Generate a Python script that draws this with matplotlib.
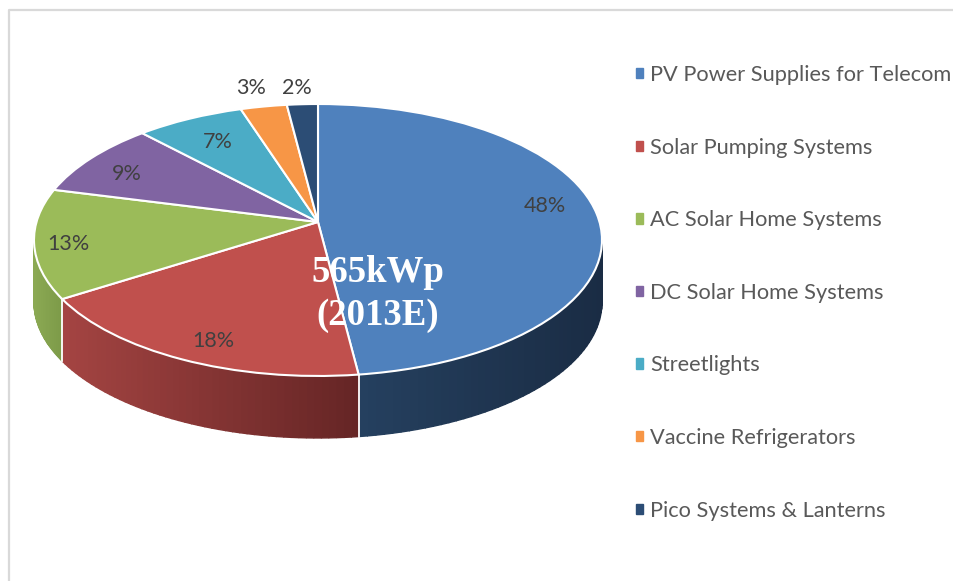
import numpy as np
import matplotlib
matplotlib.use('Agg')
import matplotlib.pyplot as plt
from matplotlib.colors import to_rgb
from matplotlib.patches import Patch
from matplotlib.transforms import Transform

plt.rcParams['font.family'] = ['Lato', 'DejaVu Sans']

# data
labels = ['PV Power Supplies for Telecom', 'Solar Pumping Systems',
          'AC Solar Home Systems', 'DC Solar Home Systems', 'Streetlights',
          'Vaccine Refrigerators', 'Pico Systems & Lanterns']
values = [48, 18, 13, 9, 7, 3, 2]
center_text = '565kWp\n(2013E)'

colors = ['#4F81BD', '#C0504D', '#9BBB59', '#8064A2', '#4BACC6', '#F79646', '#2C4D75']
# wall shading, left to right (only the three front slices show a wall)
wall_left = {0: '#25405F', 1: '#A44442', 2: '#8BA953'}
wall_right = {0: '#1A2C44', 1: '#652525', 2: '#7C9A48'}

# where the percent labels sit, pixels from the pie apex
pct_pos = [(227, 16.5), (-105, -119), (-250, -21.5), (-191, 48), (-100, 79.5), (-67, 134), (-21, 134)]

# perspective of the tilted disc
K = 0.1323
A = 281.5
B = 133.6
DEPTH = 62
EDGE_ANGLE = np.degrees(np.arcsin(K))


def project(u, v):
    return A * u / (1 + K * v), B * v / (1 + K * v)


class TiltTransform(Transform):
    input_dims = 2
    output_dims = 2
    is_affine = False

    def transform_non_affine(self, xy):
        xy = np.asarray(xy, dtype=float)
        x, y = project(xy[:, 0], xy[:, 1])
        return np.column_stack([x, y])


fig = plt.figure(figsize=(9.54, 5.81), dpi=100)
ax = fig.add_axes([0, 0, 1, 1])

# walls first, then the top
edges = 90 - np.cumsum([0] + values) * 3.6
for i in wall_left:
    a0 = min(edges[i], -EDGE_ANGLE)
    a1 = max(edges[i + 1], -180 + EDGE_ANGLE)
    angles = np.linspace(a0, a1, 50)
    x, y = project(np.cos(np.radians(angles)), np.sin(np.radians(angles)))
    x0 = min(x)
    x1 = max(x)
    cl = np.array(to_rgb(wall_left[i]))
    cr = np.array(to_rgb(wall_right[i]))
    for j in range(len(angles) - 1):
        f = ((x[j] + x[j + 1]) / 2 - x0) / (x1 - x0)
        c = cl + (cr - cl) * f
        ax.fill([x[j], x[j + 1], x[j + 1], x[j]],
                [y[j], y[j + 1], y[j + 1] - DEPTH, y[j] - DEPTH],
                color=c, lw=1.0, zorder=1)

# white seams on the wall between slices
for a in edges[1:3]:
    xs, ys = project(np.cos(np.radians(a)), np.sin(np.radians(a)))
    ax.plot([xs, xs], [ys, ys - DEPTH], color='white', lw=1.3, zorder=2)

wedges, _ = ax.pie(values, colors=colors, startangle=90, counterclock=False,
                   wedgeprops={'edgecolor': 'white', 'linewidth': 1.5})
tilt = TiltTransform()
for w in wedges:
    w.set_transform(tilt + ax.transData)
    w.set_zorder(3)

ax.set_aspect('auto')
ax.set_xlim(-318, 636)
ax.set_ylim(-359, 222)
ax.axis('off')

for v, (px, py) in zip(values, pct_pos):
    ax.text(px, py, f'{v}%', fontsize=15.5, color='#404040', ha='center', va='center', zorder=5)

ax.text(60, -72, center_text, family='Liberation Serif', fontweight='bold', fontsize=26.5,
        color='white', ha='center', va='center', linespacing=1.3, zorder=6)

# chart frame, only top and left show
ax.plot([-309, -309, 636], [-359, 212, 212], color='#D9D9D9', lw=1.6, zorder=0, clip_on=False)

handles = [Patch(color=c) for c in colors]
ax.legend(handles, labels, loc='upper left', bbox_to_anchor=(317.5, 157),
          bbox_transform=ax.transData, frameon=False, fontsize=15.7, labelcolor='#595959',
          handlelength=0.36, handleheight=0.36, handletextpad=0.3, labelspacing=2.413,
          borderpad=0, borderaxespad=0)

plt.savefig('out.png', dpi=100)
